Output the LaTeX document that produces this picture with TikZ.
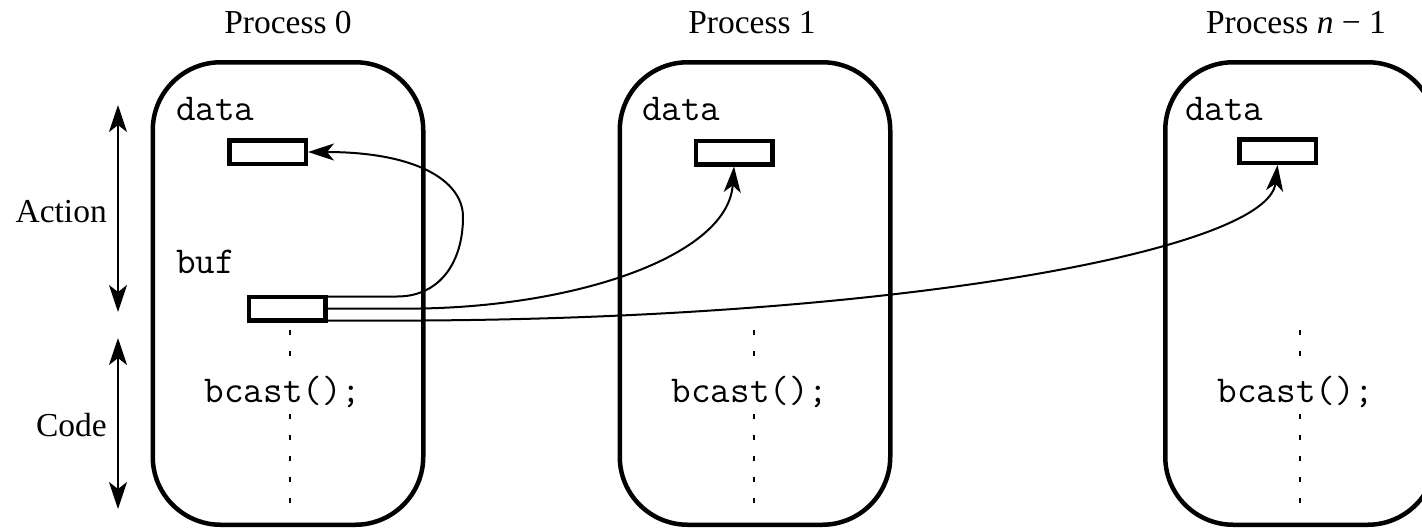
\documentclass[tikz,border=0pt]{standalone}
\usepackage{fontspec}
\setmainfont{Liberation Serif}
\usetikzlibrary{arrows.meta}
\begin{document}
\begin{tikzpicture}[x=1pt,y=-1pt,
  procbox/.style={draw,line width=4.5pt,rounded corners=68pt,minimum width=270.5pt,minimum height=462.5pt,inner sep=0pt},
  cell/.style={draw,line width=4.5pt,minimum width=76.5pt,minimum height=23.5pt,inner sep=0pt},
  serif/.style={font=\fontsize{33.5}{40}\selectfont,inner sep=0pt},
  mono/.style={font=\fontsize{38}{44}\selectfont\ttfamily,inner sep=0pt},
  conn/.style={line width=2pt,-{Stealth[length=26pt,width=17pt,inset=7pt]}},
  span/.style={line width=2pt,{Stealth[length=27pt,width=18pt,inset=7pt]}-{Stealth[length=27pt,width=18pt,inset=7pt]}},
  dots/.style={line width=2.2pt,dash pattern=on 5pt off 16pt}]
\useasboundingbox (0,0) rectangle (1422,531);
\clip (0,0) rectangle (1422,531);
% process boxes
\node[procbox] (p0) at (288,293.5) {};
\node[procbox] (p1) at (755,293.5) {};
\node[procbox] (p2) at (1300.5,293.5) {};
% titles
\node[serif,anchor=base] (t0) at (288,33) {Process 0};
\node[serif,anchor=base] (t1) at (752,33) {Process 1};
\node[serif,anchor=base] (t2) at (1296,33) {Process {\itshape n} − 1};
% dotted lines
\coordinate (d0a) at (290,330); \coordinate (d0b) at (290,508);
\coordinate (d1a) at (754,330); \coordinate (d1b) at (754,508);
\coordinate (d2a) at (1300,330); \coordinate (d2b) at (1300,508);
\draw[dots] (d0a) -- (d0b);
\draw[dots] (d1a) -- (d1b);
\draw[dots] (d2a) -- (d2b);
% labels
\node[mono,anchor=base west] (l0) at (176,120) {data};
\node[mono,anchor=base west] (l1) at (642,120) {data};
\node[mono,anchor=base west] (l2) at (1185,120) {data};
\node[mono,anchor=base west] (lb) at (176,273) {buf};
\node[mono,anchor=base,fill=white,inner xsep=0pt,inner ysep=4pt] (b0) at (283,402) {bcast();};
\node[mono,anchor=base,fill=white,inner xsep=0pt,inner ysep=4pt] (b1) at (750,402) {bcast();};
\node[mono,anchor=base,fill=white,inner xsep=0pt,inner ysep=4pt] (b2) at (1296,402) {bcast();};
% cells
\node[cell] (data0) at (267.5,152) {};
\node[cell] (data1) at (734,152.5) {};
\node[cell] (data2) at (1277.5,151) {};
\node[cell] (buf) at (287,308.5) {};
% left spans
\coordinate (a1) at (118,105); \coordinate (a2) at (118,312);
\coordinate (c1) at (118,338); \coordinate (c2) at (118,509);
\draw[span] (a1) -- (a2);
\draw[span] (c1) -- (c2);
\node[serif,anchor=east] (act) at (107,212) {Action};
\node[serif,anchor=east] (code) at (107,425) {Code};
% connectors
\coordinate (s1) at ([yshift=12pt]buf.east);
\coordinate (s3) at ([yshift=-12pt]buf.east);
\coordinate (k1) at (397,296.5);
\coordinate (k2) at (420,308.5);
\coordinate (k3) at (420,320.5);
\draw[conn] (s1) -- (k1) .. controls (440,296.5) and (463,262) .. (463,217) .. controls (463,180) and (415,152) .. (data0.east);
\draw[conn] (buf.east) -- (k2) .. controls (580,306) and (728,255) .. (data1.south);
\draw[conn] (s3) -- (k3) .. controls (900,318) and (1268,250) .. (data2.south);
\end{tikzpicture}
\end{document}
